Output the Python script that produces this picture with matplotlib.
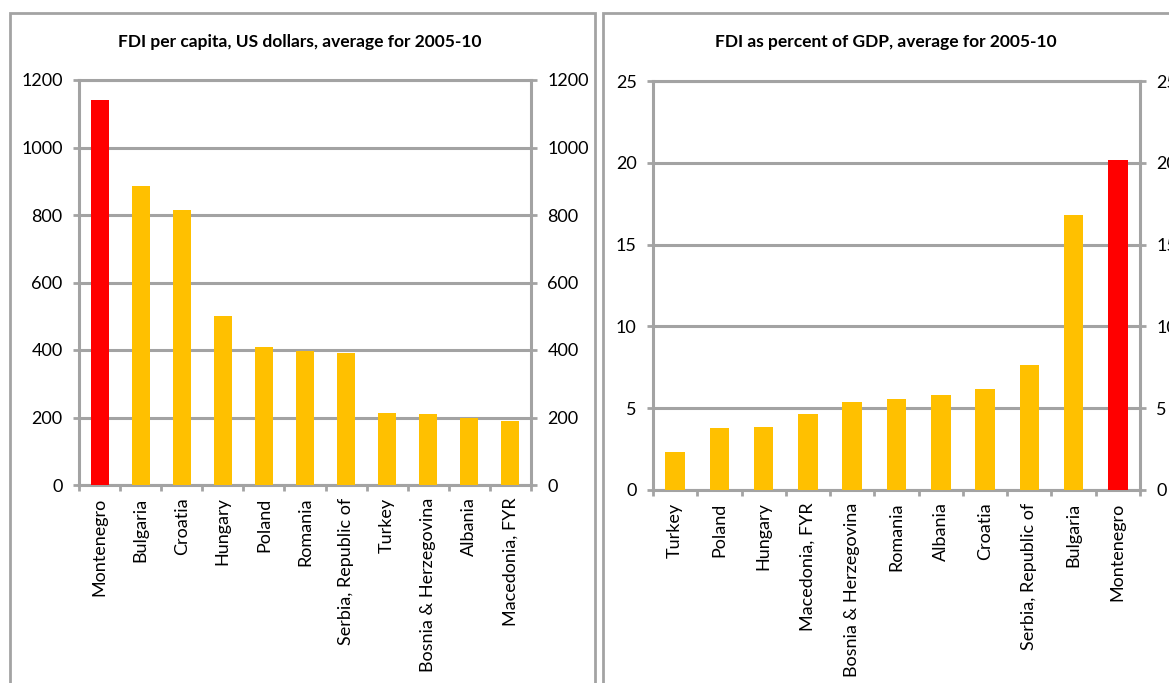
import numpy as np
import matplotlib
matplotlib.use("Agg")
import matplotlib.pyplot as plt
from matplotlib.patches import Rectangle

plt.rcParams['font.family'] = ['Lato', 'DejaVu Sans']

# FDI per capita, US dollars (2005-10 average)
pc_countries = ["Montenegro", "Bulgaria", "Croatia", "Hungary", "Poland", "Romania",
                "Serbia, Republic of", "Turkey", "Bosnia & Herzegovina", "Albania",
                "Macedonia, FYR"]
pc_values = [1140, 885, 815, 500, 408, 397, 391, 213, 209, 200, 189]

# FDI as percent of GDP (2005-10 average)
gdp_countries = ["Turkey", "Poland", "Hungary", "Macedonia, FYR", "Bosnia & Herzegovina",
                 "Romania", "Albania", "Croatia", "Serbia, Republic of", "Bulgaria",
                 "Montenegro"]
gdp_values = [2.3, 3.8, 3.85, 4.65, 5.38, 5.58, 5.82, 6.17, 7.65, 16.8, 20.15]

highlight = "Montenegro"
yellow = "#FFC000"
red = "#FF0000"
grey = "#A3A3A3"

fig = plt.figure(figsize=(11.69, 6.83), dpi=100)
W, H = 1169, 683


def panel_box(x0, y0, x1, y1):
    fig.patches.append(Rectangle((x0 / W, 1 - y1 / H), (x1 - x0) / W, (y1 - y0) / H,
                                 transform=fig.transFigure, fill=False,
                                 edgecolor=grey, linewidth=2))


def bar_panel(rect, countries, values, ymax, ystep, title, title_x):
    ax = fig.add_axes(rect)
    x = np.arange(len(countries))
    colors = [red if c == highlight else yellow for c in countries]
    ax.bar(x, values, width=0.44, color=colors, zorder=3)
    ax.set_xlim(-0.5, len(countries) - 0.5)
    ax.set_ylim(0, ymax)
    ax.set_yticks(np.arange(0, ymax + 1, ystep))
    ax.yaxis.grid(True, color=grey, linewidth=2.2, zorder=1)
    ax.set_xticks(x)
    ax.set_xticklabels(countries, rotation=90, fontsize=13)
    ax.set_xticks(np.arange(-0.5, len(countries)), minor=True)
    ax.tick_params(axis='x', which='major', length=0, pad=9)
    ax.tick_params(axis='x', which='minor', length=4, width=2, color=grey)
    ax.tick_params(axis='y', which='major', length=4.3, width=2, color=grey,
                   left=True, right=True, labelleft=True, labelright=True,
                   labelsize=13, pad=7.5)
    for s in ax.spines.values():
        s.set_color(grey)
        s.set_linewidth(2.2)
    fig.text(title_x / W, 1 - 42 / H, title, ha='center', va='center',
             fontsize=12.5, fontweight='bold')
    return ax


panel_box(10, 13, 595, 700)
panel_box(603, 13, 1200, 700)

bar_panel([79 / W, 1 - 485 / H, 452 / W, 405 / H], pc_countries, pc_values,
          1200, 200, "FDI per capita, US dollars, average for 2005-10", 300)
bar_panel([653 / W, 1 - 490 / H, 487 / W, 409 / H], gdp_countries, gdp_values,
          25, 5, "FDI as percent of GDP, average for 2005-10", 886)

fig.savefig("out.png", dpi=100)
